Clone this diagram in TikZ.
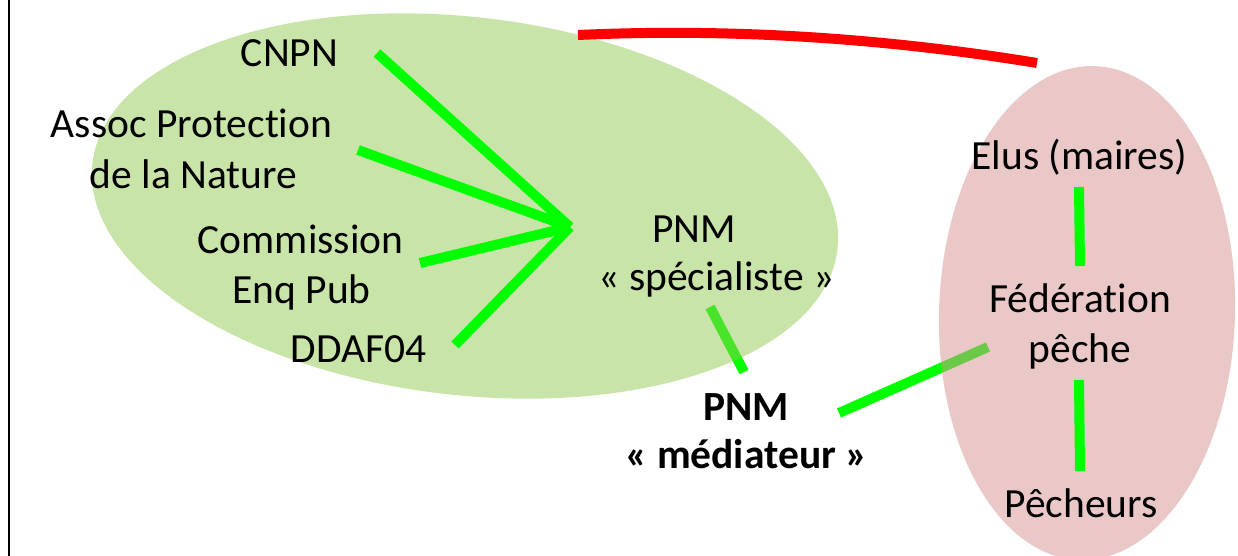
\documentclass[tikz,border=0pt]{standalone}
\usepackage{fontspec}
\setmainfont[Ligatures=NoCommon]{Carlito}
\definecolor{ellgreen}{RGB}{147,203,83}
\definecolor{ellpink}{RGB}{215,147,147}
\definecolor{linegreen}{RGB}{0,255,0}
\definecolor{arcred}{RGB}{255,0,0}
\begin{document}
\begin{tikzpicture}[x=1pt,y=1pt,
  lbl/.style={font=\fontsize{41.5}{49}\selectfont, inner sep=0pt, anchor=base, text=black},
  boldlbl/.style={font=\fontsize{41.5}{49}\selectfont\bfseries, inner sep=0pt, anchor=base, text=black},
  link/.style={draw=linegreen, line width=10pt},
  zone/.style={fill opacity=0.5}]
\useasboundingbox (0,0) rectangle (1238,-556);
\fill[white] (0,0) rectangle (1238,-556);
% left frame line
\draw[line width=2pt] (9,0) -- (9,-556);

% connector end points
\coordinate (hub) at (570,-227);
\coordinate (cnpn-e) at (377,-53);
\coordinate (assoc-e) at (358,-150);
\coordinate (comm-e) at (420,-263);
\coordinate (ddaf-e) at (455,-345);
\coordinate (spec-s) at (710,-307);
\coordinate (med-n) at (744,-372);
\coordinate (med-e) at (839,-413);
\coordinate (fed-w) at (988,-347);
\coordinate (elus-s) at (1079,-187);
\coordinate (fed-n) at (1080,-266);
\coordinate (fed-s) at (1079,-380);
\coordinate (pech-n) at (1080,-471);
\coordinate (arc-a) at (578,-35);
\coordinate (arc-b) at (1037,-63);

% connectors lying under the zones
\draw[link] (spec-s) -- (med-n);
\draw[link] (med-e) -- (fed-w);

% zones
\fill[ellgreen, zone, rotate around={-6.6:(465,-206)}] (465,-206) ellipse [x radius=375, y radius=189];
\fill[ellpink, zone, rotate around={-1.7:(1087,-313)}] (1087,-313) ellipse [x radius=148, y radius=247];

% connectors above the zones
\draw[link] (cnpn-e) -- (hub);
\draw[link] (assoc-e) -- (hub);
\draw[link] (comm-e) -- (hub);
\draw[link] (ddaf-e) -- (hub);
\draw[link] (elus-s) -- (fed-n);
\draw[link] (fed-s) -- (pech-n);
\draw[draw=arcred, line width=10pt] (arc-a) .. controls (731,-28) and (884,-38) .. (arc-b);

% labels
\node[lbl] (cnpn) at (289.5,-67) {CNPN};
\node[lbl] (assoc1) at (191.5,-138) {Assoc Protection};
\node[lbl] (assoc2) at (193.5,-188) {de la Nature};
\node[lbl] (comm1) at (300.5,-253) {Commission};
\node[lbl] (comm2) at (301.5,-303) {Enq Pub};
\node[lbl] (ddaf) at (358.5,-362) {DDAF04};
\node[lbl] (spec1) at (694,-242) {PNM};
\node[lbl] (spec2) at (716.5,-290) {« spécialiste »};
\node[boldlbl] (med1) at (746,-420) {PNM};
\node[boldlbl] (med2) at (746.5,-468) {« médiateur »};
\node[lbl] (elus) at (1079.5,-169) {Elus (maires)};
\node[lbl] (fed1) at (1080,-312) {Fédération};
\node[lbl] (fed2) at (1080,-362) {pêche};
\node[lbl] (pech) at (1081,-517) {Pêcheurs};
\end{tikzpicture}
\end{document}
